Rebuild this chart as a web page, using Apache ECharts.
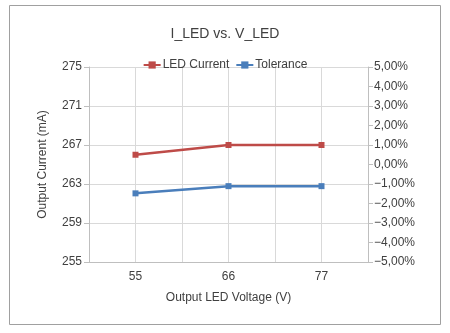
<!DOCTYPE html>
<html>
<head>
<meta charset="utf-8">
<script src="https://cdn.jsdelivr.net/npm/echarts@6/dist/echarts.min.js"></script>
<style>
html,body{margin:0;padding:0;background:#fff;}
#chart{width:450px;height:333px;}
</style>
</head>
<body>
<div id="chart"></div>
<script>
var categories = ['55', '66', '77'];
var ledCurrent = [266, 267, 267];
var tolerance = [-1.48, -1.11, -1.11];
var titleText = 'I_LED vs. V_LED';
var seriesNames = ['LED Current', 'Tolerance'];

var FONT = '"Liberation Sans", Arial, sans-serif';
var TXT = '#404040';
var GRID = '#d9d9d9';
var AXIS = '#bfbfbf';

var chart = echarts.init(document.getElementById('chart'), null, {renderer: 'canvas'});
chart.setOption({
  animation: false,
  backgroundColor: '#fff',
  textStyle: {fontFamily: FONT},
  graphic: [{
    type: 'rect', silent: true, z: -1,
    shape: {x: 9.5, y: 5.5, width: 431, height: 319},
    style: {fill: 'none', stroke: '#a0a0a0', lineWidth: 1}
  }],
  title: {
    text: titleText, left: 'center', top: 22,
    textStyle: {fontSize: 14, fontWeight: 'normal', color: TXT, fontFamily: FONT}
  },
  legend: {
    top: 54, left: 'center', itemWidth: 17, itemHeight: 9, itemGap: 6,
    textStyle: {fontSize: 12, color: TXT, fontFamily: FONT, padding: [0, 0, 0, -3]},
    data: seriesNames
  },
  grid: {left: 89, right: 82, top: 67, bottom: 71, containLabel: false},
  xAxis: [{
    type: 'category', data: categories, boundaryGap: true,
    axisLine: {show: true, onZero: false, lineStyle: {color: AXIS}},
    axisTick: {show: false},
    splitLine: {show: false},
    axisLabel: {fontSize: 12, color: TXT, margin: 9, fontFamily: FONT},
    name: 'Output LED Voltage (V)', nameLocation: 'middle', nameGap: 30,
    nameTextStyle: {fontSize: 12, color: TXT, fontFamily: FONT}
  }, {
    type: 'value', min: 0, max: 6, interval: 1, position: 'bottom',
    axisLine: {show: false, onZero: false}, axisTick: {show: false}, axisLabel: {show: false},
    splitLine: {show: true, lineStyle: {color: GRID, width: 1}}
  }],
  yAxis: [{
    type: 'value', min: 255, max: 275, interval: 4, position: 'left',
    axisLine: {show: true, lineStyle: {color: AXIS}},
    axisTick: {show: true, inside: false, length: 5, lineStyle: {color: AXIS}},
    splitLine: {show: true, lineStyle: {color: GRID, width: 1}},
    axisLabel: {fontSize: 12, color: TXT, margin: 7, fontFamily: FONT},
    name: 'Output Current (mA)', nameLocation: 'middle', nameGap: 40, nameRotate: 90,
    nameTextStyle: {fontSize: 12, color: TXT, fontFamily: FONT}
  }, {
    type: 'value', min: -5, max: 5, interval: 1, position: 'right',
    axisLine: {show: true, lineStyle: {color: AXIS}},
    axisTick: {show: true, inside: false, length: 5, lineStyle: {color: AXIS}},
    splitLine: {show: false},
    axisLabel: {
      fontSize: 12, color: TXT, margin: 6, fontFamily: FONT,
      formatter: function (v) {
        var s = Math.abs(v).toFixed(2).replace('.', ',') + '%';
        return (v < 0 ? '\u2212' : '') + s;
      }
    }
  }],
  series: [{
    name: seriesNames[0], type: 'line', xAxisIndex: 0, yAxisIndex: 0,
    data: ledCurrent, symbol: 'rect', symbolSize: 6,
    itemStyle: {color: '#BE4B48'}, lineStyle: {color: '#BE4B48', width: 2.5}
  }, {
    name: seriesNames[1], type: 'line', xAxisIndex: 0, yAxisIndex: 1,
    data: tolerance, symbol: 'rect', symbolSize: 6,
    itemStyle: {color: '#4A7EBB'}, lineStyle: {color: '#4A7EBB', width: 2.5}
  }]
});
</script>
</body>
</html>
